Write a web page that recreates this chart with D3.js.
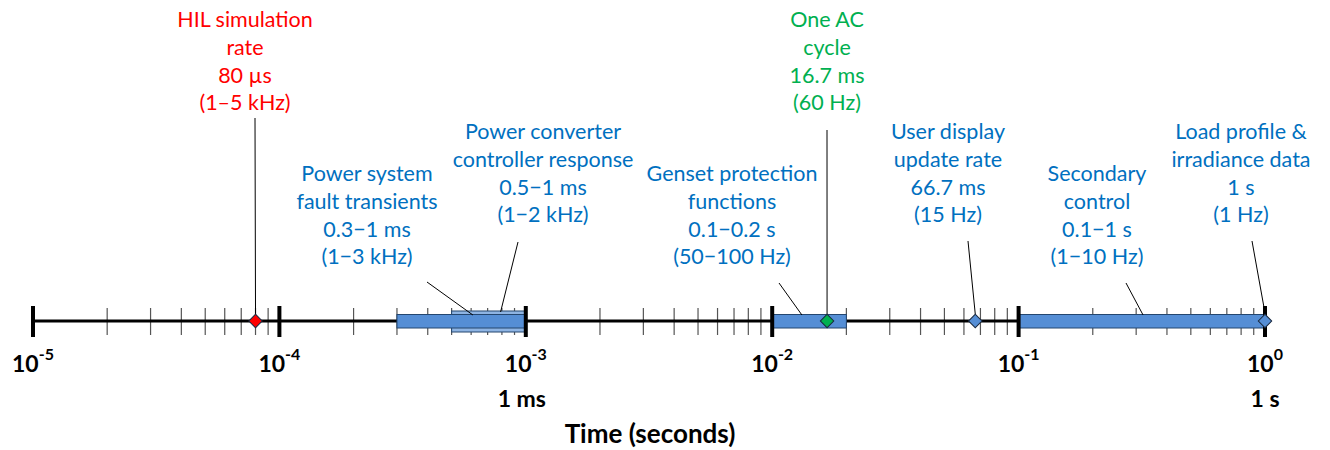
<!DOCTYPE html>
<html><head><meta charset="utf-8">
<script src="https://cdn.jsdelivr.net/npm/d3@7"></script>
<style>
html,body{margin:0;padding:0;background:#fff;}
svg{display:block;font-family:Lato,"Open Sans",sans-serif;}
</style></head>
<body><svg id="c" width="1330" height="450"></svg>
<script>
// ---- data ----
const decadeExponents = [-5, -4, -3, -2, -1, 0];
const decadeExtraLabels = ["", "", "1 ms", "", "", "1 s"];
const rangeNames = ["Power converter controller response", "Power system fault transients", "Genset protection functions", "Secondary control"];
const rangeStart = [0.0005, 0.0003, 0.01, 0.1];
const rangeEnd = [0.001, 0.001, 0.02, 1];
const pointNames = ["HIL simulation rate", "One AC cycle", "User display update rate", "Load profile & irradiance data"];
const pointValues = [0.00008, 0.0167, 0.0667, 1];
const labelLines = [
  ["HIL simulation", "rate", "80 \u00b5s", "(1\u20135 kHz)"],
  ["Power system", "fault transients", "0.3\u22121 ms", "(1\u22123 kHz)"],
  ["Power converter", "controller response", "0.5\u22121 ms", "(1\u22122 kHz)"],
  ["Genset protection", "functions", "0.1\u22120.2 s", "(50\u2212100 Hz)"],
  ["One AC", "cycle", "16.7 ms", "(60 Hz)"],
  ["User display", "update rate", "66.7 ms", "(15 Hz)"],
  ["Secondary", "control", "0.1\u22121 s", "(1\u221210 Hz)"],
  ["Load profile &", "irradiance data", "1 s", "(1 Hz)"]
];
const axisTitle = "Time (seconds)";

// ---- layout / style ----
const axisY = 321;
const x = d3.scaleLog().domain([1e-5, 1]).range([33, 1265]);
const blue = "#0070C0", red = "#FF0000", green = "#00B050";
const barFill = "#558ED5", barFillLight = "#8EB4E3", barStroke = "#24466f";
const labelLayout = [
  {cx: 245, y0: 27, color: red,  lx: 255, ly: 118, tv: pointValues[0], ty: 314},
  {cx: 367, y0: 181, color: blue, lx: 427, ly: 282, tv: 0.00061, ty: 315},
  {cx: 543, y0: 139, color: blue, lx: 518, ly: 242, tv: 0.00079, ty: 312},
  {cx: 732, y0: 181, color: blue, lx: 779, ly: 283, tv: 0.0132, ty: 315},
  {cx: 827, y0: 27, color: green, lx: 827, ly: 130, tv: pointValues[1], ty: 314},
  {cx: 948, y0: 139, color: blue, lx: 968, ly: 241, tv: pointValues[2], ty: 314},
  {cx: 1097, y0: 181, color: blue, lx: 1126, ly: 283, tv: 0.32, ty: 315},
  {cx: 1241, y0: 139, color: blue, lx: 1252, ly: 241, tv: pointValues[3], ty: 313}
];
const lineH = 27.8;

const svg = d3.select("#c");

// minor ticks
const minor = [];
decadeExponents.slice(0, -1).forEach(e => { for (let m = 2; m <= 9; m++) minor.push(m * Math.pow(10, e)); });
svg.append("g").selectAll("line").data(minor).join("line")
  .attr("x1", d => x(d)).attr("x2", d => x(d))
  .attr("y1", axisY - 13).attr("y2", axisY + 14)
  .attr("stroke", "#555").attr("stroke-width", 1.2);

// axis line
svg.append("line").attr("x1", x(1e-5)).attr("x2", x(1)).attr("y1", axisY).attr("y2", axisY)
  .attr("stroke", "#000").attr("stroke-width", 3);

// bars (converter drawn first, fault bar on top)
const bars = rangeNames.map((n, i) => ({n, s: rangeStart[i], e: rangeEnd[i], i}));
svg.append("g").selectAll("rect").data(bars).join("rect")
  .attr("x", d => x(d.s)).attr("width", d => x(d.e) - x(d.s))
  .attr("y", d => d.i === 0 ? axisY - 10 : axisY - 6.5)
  .attr("height", d => d.i === 0 ? 21 : 13.5)
  .attr("fill", d => d.i === 0 ? barFillLight : barFill)
  .attr("stroke", barStroke).attr("stroke-width", 1);

// major ticks
svg.append("g").selectAll("line").data(decadeExponents).join("line")
  .attr("x1", d => x(Math.pow(10, d))).attr("x2", d => x(Math.pow(10, d)))
  .attr("y1", axisY - 15).attr("y2", axisY + 16)
  .attr("stroke", "#000").attr("stroke-width", 4);

// leader lines
svg.append("g").selectAll("line").data(labelLayout).join("line")
  .attr("x1", d => d.lx).attr("y1", d => d.ly)
  .attr("x2", d => x(d.tv)).attr("y2", d => d.ty)
  .attr("stroke", "#000").attr("stroke-width", 1);

// diamonds
const ptColors = [red, green, barFill, barFill];
const diamond = d3.symbol().type(d3.symbolSquare).size(90);
svg.append("g").selectAll("path").data(pointValues).join("path")
  .attr("d", diamond)
  .attr("transform", d => `translate(${x(d)},${axisY}) rotate(45)`)
  .attr("fill", (d, i) => ptColors[i]).attr("stroke", "#1a2a40").attr("stroke-width", 1);

// annotation labels
const lg = svg.append("g").attr("font-size", 21.5).attr("text-anchor", "middle");
labelLayout.forEach((L, i) => {
  const t = lg.append("text").attr("fill", L.color);
  labelLines[i].forEach((s, k) => t.append("tspan").attr("x", L.cx).attr("y", L.y0 + k * lineH).text(s));
});

// decade labels
const dl = svg.append("g").attr("font-weight", "bold").attr("text-anchor", "middle").attr("fill", "#000");
decadeExponents.forEach((e, i) => {
  const t = dl.append("text").attr("x", x(Math.pow(10, e))).attr("y", 372).attr("font-size", 23);
  t.append("tspan").text("10");
  t.append("tspan").attr("dy", -12).attr("font-size", 16).text(e);
  if (decadeExtraLabels[i]) dl.append("text").attr("x", x(Math.pow(10, e)) - (e === 0 ? 0 : 4)).attr("y", 407).attr("font-size", 23).text(decadeExtraLabels[i]);
});

svg.append("text").attr("x", 650).attr("y", 443).attr("text-anchor", "middle")
  .attr("font-weight", "bold").attr("font-size", 26).text(axisTitle);
</script></body></html>
